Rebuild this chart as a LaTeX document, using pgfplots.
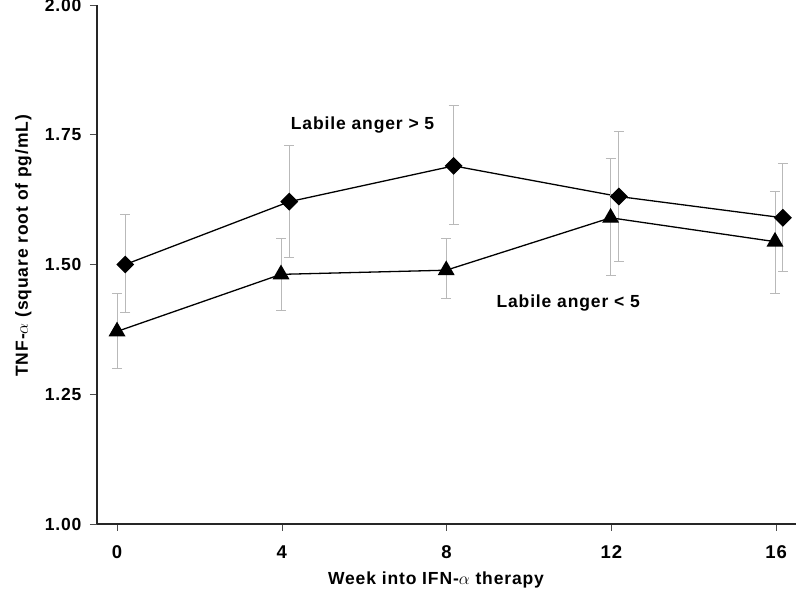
\documentclass[border=0pt]{standalone}
\usepackage{pgfplots}
\pgfplotsset{compat=1.18}
\usepackage{fontspec}
\setmainfont{Liberation Sans}[LetterSpace=5]
\definecolor{errgray}{RGB}{185,185,185}

\begin{document}
\begin{tikzpicture}
\begin{axis}[
  name=ax,
  scale only axis,
  width=699pt, height=519pt,
  xmin=-0.486, xmax=16.48, ymin=1, ymax=2,
  axis x line=bottom, axis y line=left,
  axis line style={-, line width=1.1pt, black!85},
  xtick={0,4,8,12,16},
  ytick={1,1.25,1.5,1.75,2},
  tick align=outside,
  major tick length=7pt,
  tick style={line width=0.6pt, black!70},
  /pgf/number format/assume math mode=true,
  ticklabel style={font=\fontsize{17.5}{20}\selectfont\bfseries},
  yticklabel style={xshift=-5pt, /pgf/number format/.cd, fixed, fixed zerofill, precision=2},
  xticklabel style={yshift=-11pt, font=\fontsize{18.5}{20}\selectfont\bfseries},
  label style={font=\fontsize{17.5}{20}\selectfont\bfseries},
  xlabel={Week into IFN-$\alpha$ therapy},
  ylabel={TNF-$\alpha$ (square root of pg/mL)},
  xlabel style={at={([yshift=-61pt]rel axis cs:0.485,0)}, anchor=base},
  ylabel style={at={([xshift=-69pt]rel axis cs:0,0.536)}, anchor=base},
  clip=false,
]
\addplot[black, line width=1.3pt, mark=square*, mark size=5.7pt,
  mark options={rotate=45, solid},
  error bars/.cd, y dir=both, y explicit,
  error bar style={errgray, line width=0.8pt},
  error mark options={errgray, rotate=90, mark size=5pt, line width=0.8pt}]
coordinates {
  (0.2,1.500) += (0,0.097) -= (0,0.092)
  (4.18,1.621) += (0,0.109) -= (0,0.107)
  (8.17,1.690) += (0,0.116) -= (0,0.113)
  (12.18,1.631) += (0,0.126) -= (0,0.126)
  (16.16,1.590) += (0,0.105) -= (0,0.104)
};
\addplot[black, line width=1.3pt, mark=triangle*, mark size=8.5pt,
  mark options={solid},
  error bars/.cd, y dir=both, y explicit,
  error bar style={errgray, line width=0.8pt},
  error mark options={errgray, rotate=90, mark size=5pt, line width=0.8pt}]
coordinates {
  (0,1.371) += (0,0.074) -= (0,0.072)
  (3.98,1.481) += (0,0.069) -= (0,0.069)
  (7.99,1.489) += (0,0.061) -= (0,0.055)
  (11.98,1.590) += (0,0.114) -= (0,0.111)
  (15.97,1.544) += (0,0.096) -= (0,0.100)
};
\node[font=\fontsize{17.5}{20}\selectfont\bfseries, anchor=base] at (axis cs:5.96,1.7606) {Labile anger > 5};
\node[font=\fontsize{17.5}{20}\selectfont\bfseries, anchor=base] at (axis cs:10.95,1.417) {Labile anger < 5};
\end{axis}
\pgfresetboundingbox
\path[use as bounding box] ([shift={(-97pt,-72pt)}]ax.south west) rectangle ([shift={(703pt,524pt)}]ax.south west);
\end{tikzpicture}
\end{document}
